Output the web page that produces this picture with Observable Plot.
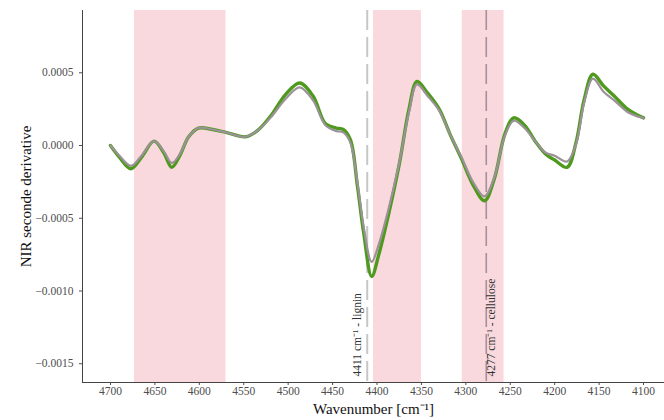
<!DOCTYPE html>
<html><head><meta charset="utf-8">
<script src="https://cdn.jsdelivr.net/npm/d3@7"></script>
<script src="https://cdn.jsdelivr.net/npm/@observablehq/plot@0.6"></script>
<style>body{margin:0;background:#fff}#chart{width:664px;height:420px;overflow:hidden}</style>
</head><body><div id="chart"></div>
<script>
const wavenumbers = [4700,4690,4677,4665,4651,4640,4631,4622,4612,4601,4585,4570,4548,4535,4520,4503,4487,4472,4458,4446,4438,4430,4422,4415,4406,4398,4388,4375,4364,4355,4343,4330,4318,4305,4292,4279,4268,4256,4246,4234,4222,4210,4200,4186,4176,4167,4157,4145,4133,4118,4107,4100];
const greenSpectrum = [0.00000,-0.00008,-0.00016,-0.00008,0.00003,-0.00005,-0.00015,-0.00007,0.00006,0.00012,0.00011,0.00009,0.00006,0.00010,0.00020,0.00035,0.00043,0.00034,0.00015,0.00012,0.00011,0.00004,-0.00028,-0.00060,-0.00090,-0.00075,-0.00050,-0.00013,0.00025,0.00044,0.00036,0.00025,0.00008,-0.00009,-0.00027,-0.00038,-0.00023,0.00008,0.00019,0.00014,0.00003,-0.00006,-0.00010,-0.00015,0.00002,0.00031,0.00049,0.00041,0.00034,0.00025,0.00021,0.00019];
const greySpectrum = [0.00000,-0.00007,-0.00014,-0.00007,0.00003,-0.00004,-0.00012,-0.00006,0.00006,0.00012,0.00011,0.00009,0.00006,0.00010,0.00019,0.00032,0.00040,0.00031,0.00014,0.00010,0.00009,0.00002,-0.00026,-0.00056,-0.00080,-0.00068,-0.00046,-0.00012,0.00023,0.00042,0.00034,0.00024,0.00008,-0.00008,-0.00025,-0.00035,-0.00022,0.00007,0.00017,0.00012,0.00003,-0.00005,-0.00007,-0.00011,0.00001,0.00029,0.00046,0.00037,0.00031,0.00023,0.00020,0.00019];
const bandStart = [4673, 4404, 4304];
const bandEnd = [4570, 4350, 4257];
const markerWn = [4411, 4277];
const markerLabels = ["4411 cm⁻¹ - lignin", "4277 cm⁻¹ - cellulose"];
const xTicks = [4700,4650,4600,4550,4500,4450,4400,4350,4300,4250,4200,4150,4100];
const yTicks = [0.0005, 0, -0.0005, -0.0010, -0.0015];

const bands = bandStart.map((s, i) => ({start: s, end: bandEnd[i]}));
const green = wavenumbers.map((w, i) => ({wn: w, v: greenSpectrum[i]}));
const grey = wavenumbers.map((w, i) => ({wn: w, v: greySpectrum[i]}));

const chart = Plot.plot({
  width: 664, height: 420,
  marginLeft: 82, marginRight: 0, marginTop: 10, marginBottom: 38,
  style: {fontFamily: "Liberation Serif", background: "#fff"},
  x: {domain: [4731.5, 4076.4]},
  y: {domain: [-0.001629, 0.000928]},
  marks: [
    Plot.rect(bands, {x1: "start", x2: "end", fill: "#fad9de"}),
    Plot.ruleX([markerWn[0]], {stroke: "#c6c6c6", strokeWidth: 2, strokeDasharray: "20,7"}),
    Plot.ruleX([markerWn[1]], {stroke: "#a48f9a", strokeWidth: 1.6, strokeDasharray: "20,7"}),
    Plot.line(green, {x: "wn", y: "v", stroke: "#4f9a1e", strokeWidth: 3.4, curve: "catmull-rom"}),
    Plot.line(grey, {x: "wn", y: "v", stroke: "#9a9297", strokeWidth: 2.2, curve: "catmull-rom"}),
    Plot.text([0], {x: () => markerWn[0], text: () => markerLabels[0], frameAnchor: "bottom", rotate: -90, textAnchor: "start", dx: -6, dy: -6, fontSize: 11.5, fill: "#333"}),
    Plot.text([0], {x: () => markerWn[1], text: () => markerLabels[1], frameAnchor: "bottom", rotate: -90, textAnchor: "start", dx: 9, dy: -6, fontSize: 11.5, fill: "#333"}),
    Plot.axisX({ticks: xTicks, tickSize: 3, tickPadding: 1, tickFormat: d => String(d), fontSize: 11.5, color: "#4d4d4d", label: "Wavenumber [cm⁻¹]", labelAnchor: "center", labelArrow: "none", labelOffset: 31}),
    Plot.axisY({ticks: yTicks, tickSize: 3, tickFormat: d3.format(".4f"), fontSize: 11.5, color: "#4d4d4d", label: "NIR seconde derivative", labelAnchor: "center", labelArrow: "none", labelOffset: 62}),
    Plot.frame({anchor: "left", stroke: "#444"}),
    Plot.frame({anchor: "bottom", stroke: "#444"})
  ]
});
d3.select(chart).selectAll("[aria-label='x-axis label'] text, [aria-label='y-axis label'] text").style("font-size", "15px").style("fill", "#111");
document.getElementById("chart").append(chart);
</script></body></html>
